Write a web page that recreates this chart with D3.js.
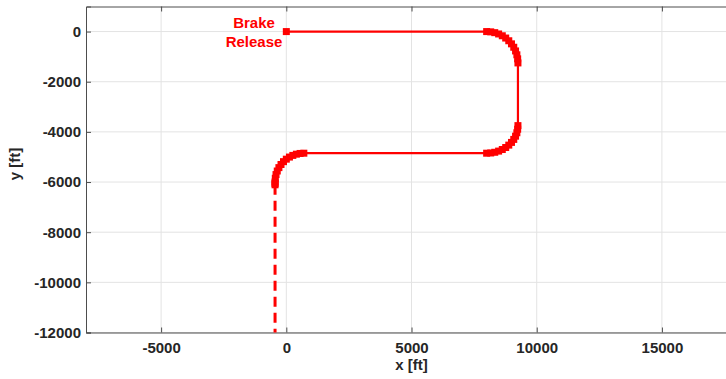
<!DOCTYPE html>
<html>
<head>
<meta charset="utf-8">
<script src="https://cdn.jsdelivr.net/npm/d3@7.9.0/dist/d3.min.js"></script>
<style>
  body { margin: 0; background: #fff; }
  svg { display: block; font-family: 'Liberation Sans', Arial, Helvetica, sans-serif; }
  .tick text { font-weight: bold; fill: #262626; }
</style>
</head>
<body>
<svg id="chart" width="726" height="379"></svg>
<script>
// ground track, feet
const xTicks = [-5000, 0, 5000, 10000, 15000];
const yTicks = [0, -2000, -4000, -6000, -8000, -10000, -12000];

const brakeRelease = [0, 0];

// thin straight legs
const straightLegs = [
  [[0, 0], [8000, 0]],
  [[9250, -1250], [9250, -3750]],
  [[8000, -4850], [700, -4850]],
];

// turns
const turn1 = [
  [8000, 0], [8163, -11], [8324, -43], [8478, -95], [8625, -167], [8761, -258],
  [8884, -366], [8992, -489], [9083, -625], [9155, -772], [9207, -926],
  [9239, -1087], [9250, -1250],
];
const turn2 = [
  [9250, -3750], [9239, -3894], [9207, -4035], [9155, -4171], [9083, -4300],
  [8992, -4420], [8884, -4528], [8761, -4623], [8625, -4703], [8478, -4766],
  [8324, -4813], [8163, -4841], [8000, -4850],
];
const turn3 = [
  [700, -4850], [550, -4860], [402, -4889], [260, -4938], [125, -5004],
  [0, -5088], [-113, -5187], [-212, -5300], [-296, -5425], [-362, -5560],
  [-411, -5702], [-440, -5850], [-450, -6000], [-450, -6060], [-450, -6110],
];

// runway roll after the last turn
const rollout = [[-450, -6110], [-450, -12000]];

const svg = d3.select('#chart');
const padLeft = 86, padTop = 6.5, padBottom = 332.5;

const x = d3.scaleLinear().domain([-8000, 18000]).range([padLeft, padLeft + 26000 * 0.02504]);
const y = d3.scaleLinear().domain([-12000, 1000]).range([padBottom, padTop]);

const line = d3.line().x(d => x(d[0])).y(d => y(d[1]));
const plain = d => String(d);

// grid
svg.append('g')
  .selectAll('line')
  .data(xTicks)
  .join('line')
  .attr('x1', d => x(d)).attr('x2', d => x(d))
  .attr('y1', padTop).attr('y2', padBottom)
  .attr('stroke', '#e3e3e3');
svg.append('g')
  .selectAll('line')
  .data(yTicks)
  .join('line')
  .attr('x1', padLeft).attr('x2', 726)
  .attr('y1', d => y(d)).attr('y2', d => y(d))
  .attr('stroke', '#e3e3e3');

// axes
const xAxis = svg.append('g')
  .attr('transform', `translate(0,${padBottom})`)
  .call(d3.axisBottom(x).tickValues(xTicks).tickSize(-5).tickPadding(10).tickFormat(plain));
const xTop = svg.append('g')
  .attr('transform', `translate(0,${padTop})`)
  .call(d3.axisTop(x).tickValues(xTicks).tickSize(-5).tickFormat(''));
const yAxis = svg.append('g')
  .attr('transform', `translate(${padLeft},0)`)
  .call(d3.axisLeft(y).tickValues(yTicks).tickSize(-5).tickPadding(5).tickFormat(plain));

[xAxis, xTop, yAxis].forEach(g => {
  g.select('.domain').attr('stroke', '#4d4d4d');
  g.selectAll('.tick line').attr('stroke', '#4d4d4d');
  g.selectAll('.tick text').style('font-size', '15px');
});

svg.append('text')
  .attr('x', x(5000)).attr('y', 370)
  .attr('text-anchor', 'middle')
  .style('font-size', '15px').style('font-weight', 'bold').attr('fill', '#262626')
  .text('x [ft]');
svg.append('text')
  .attr('transform', 'translate(20,164) rotate(-90)')
  .attr('text-anchor', 'middle')
  .style('font-size', '15px').style('font-weight', 'bold').attr('fill', '#262626')
  .text('y [ft]');

// track
const red = '#ff0000';
svg.append('g')
  .selectAll('path')
  .data(straightLegs)
  .join('path')
  .attr('d', line)
  .attr('fill', 'none')
  .attr('stroke', red)
  .attr('stroke-width', 2.2);

svg.append('path')
  .attr('d', line(rollout))
  .attr('fill', 'none')
  .attr('stroke', red)
  .attr('stroke-width', 3)
  .attr('stroke-dasharray', '10,6');

[turn1, turn2, turn3].forEach(turn => {
  svg.append('path')
    .attr('d', line(turn))
    .attr('fill', 'none')
    .attr('stroke', red)
    .attr('stroke-width', 2.2);
  svg.append('g')
    .selectAll('rect')
    .data(turn)
    .join('rect')
    .attr('x', d => x(d[0]) - 3.5)
    .attr('y', d => y(d[1]) - 3.5)
    .attr('width', 7).attr('height', 7)
    .attr('fill', red);
});

svg.append('rect')
  .attr('x', x(brakeRelease[0]) - 3.5)
  .attr('y', y(brakeRelease[1]) - 3.5)
  .attr('width', 7).attr('height', 7)
  .attr('fill', red);

const label = svg.append('text')
  .attr('text-anchor', 'middle')
  .attr('fill', red)
  .style('font-size', '15px').style('font-weight', 'bold');
label.append('tspan').attr('x', 254).attr('y', 28).text('Brake');
label.append('tspan').attr('x', 254).attr('y', 47).text('Release');
</script>
</body>
</html>
